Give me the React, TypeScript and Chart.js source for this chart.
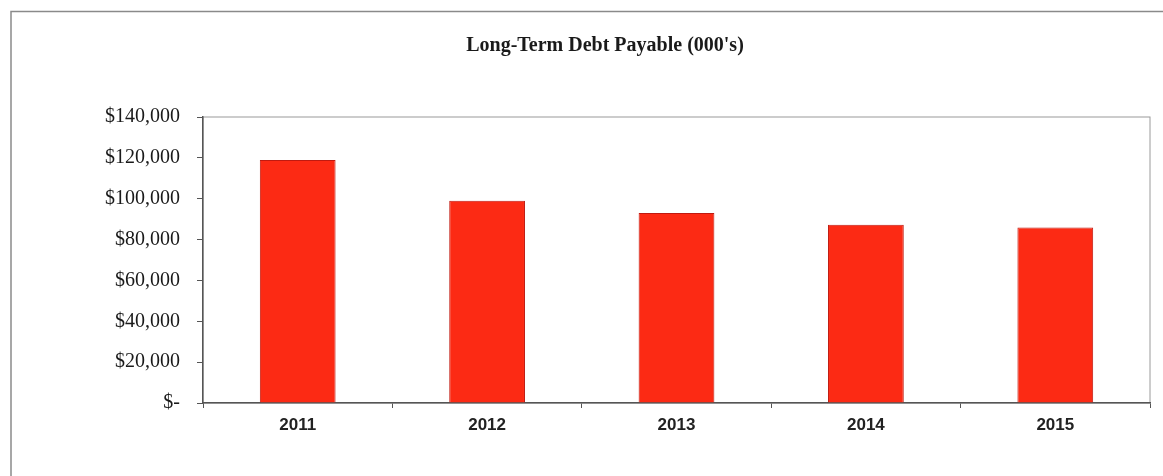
import React, { useEffect, useRef } from "react";
import { Chart, registerables } from "chart.js";

Chart.register(...registerables);

const categories = ["2011", "2012", "2013", "2014", "2015"];
const debtValues = [119000, 99000, 93000, 87200, 85900];
const yTickValues = [0, 20000, 40000, 60000, 80000, 100000, 120000, 140000];
const chartTitle = "Long-Term Debt Payable (000's)";

const formatMoney = (v: number) =>
  v === 0 ? "$-" : "$" + v.toLocaleString("en-US");

const framePlugin = {
  id: "framePlugin",
  beforeDraw(chart: any) {
    const { ctx, chartArea } = chart;
    ctx.save();
    ctx.fillStyle = "#ffffff";
    ctx.fillRect(0, 0, chart.width, chart.height);
    // outer frame (left and top visible)
    ctx.strokeStyle = "#8a8a8a";
    ctx.lineWidth = 1.5;
    ctx.beginPath();
    ctx.moveTo(11, chart.height + 5);
    ctx.lineTo(11, 11.5);
    ctx.lineTo(chart.width + 5, 11.5);
    ctx.stroke();
    // plot box
    ctx.strokeStyle = "#9a9a9a";
    ctx.lineWidth = 1;
    ctx.strokeRect(
      chartArea.left,
      chartArea.top,
      chartArea.right - chartArea.left,
      chartArea.bottom - chartArea.top
    );
    // title
    ctx.fillStyle = "#1a1a1a";
    ctx.font = "bold 20px 'Liberation Serif', 'Times New Roman', serif";
    ctx.textAlign = "center";
    ctx.textBaseline = "middle";
    ctx.fillText(chartTitle, 605, 46);
    ctx.restore();
  },
};

export default function App() {
  const canvasRef = useRef<HTMLCanvasElement | null>(null);

  useEffect(() => {
    document.body.style.margin = "0";
    const canvas = canvasRef.current;
    if (!canvas) return;
    const chart = new Chart(canvas, {
      type: "bar",
      data: {
        labels: categories,
        datasets: [
          {
            label: "Long-Term Debt Payable",
            data: debtValues,
            backgroundColor: "#fc2a14",
            borderColor: "#c01a10",
            borderWidth: 1,
            barPercentage: 0.4,
            categoryPercentage: 1,
          },
        ],
      },
      options: {
        animation: false,
        responsive: false,
        maintainAspectRatio: false,
        devicePixelRatio: 1,
        layout: { padding: { left: 0, right: 13, top: 117, bottom: 0 } },
        plugins: {
          legend: { display: false },
          title: { display: false },
          tooltip: { enabled: false },
        },
        scales: {
          x: {
            grid: {
              display: true,
              drawOnChartArea: false,
              drawTicks: true,
              tickLength: 5,
              color: "#555555",
              offset: true,
            },
            border: { display: true, color: "#555555", width: 1.5 },
            ticks: {
              color: "#222222",
              font: { family: "'Liberation Sans', Arial, sans-serif", size: 17, weight: "bold" },
              padding: 7,
            },
            afterFit: (scale: any) => {
              scale.height = 476 - 403;
            },
          },
          y: {
            min: 0,
            max: 140000,
            afterBuildTicks: (scale: any) => {
              scale.ticks = yTickValues.map((v) => ({ value: v }));
            },
            grid: {
              display: true,
              drawOnChartArea: false,
              drawTicks: true,
              tickLength: 6,
              color: "#555555",
            },
            border: { display: true, color: "#555555", width: 1.5 },
            ticks: {
              color: "#1a1a1a",
              font: { family: "'Liberation Serif', 'Times New Roman', serif", size: 20 },
              padding: 17,
              callback: (v: any) => formatMoney(Number(v)),
            },
            afterFit: (scale: any) => {
              scale.width = 203;
            },
          },
        },
      },
      plugins: [framePlugin],
    });
    return () => chart.destroy();
  }, []);

  return (
    <div style={{ position: "absolute", left: 0, top: 0, width: 1163, height: 476 }}>
      <canvas ref={canvasRef} width={1163} height={476} style={{ width: 1163, height: 476 }} />
    </div>
  );
}
